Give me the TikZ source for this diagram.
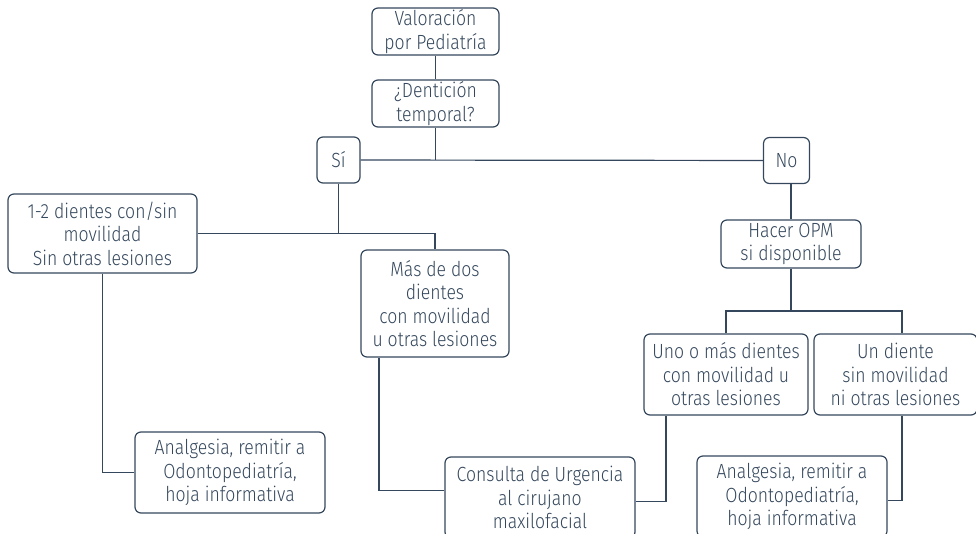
\documentclass[tikz,border=0pt]{standalone}
\usepackage{fontspec}
\setmainfont{Fira Sans Light}[FakeStretch=0.86]
\usepackage{tikz}
\usepackage{xcolor}
\definecolor{azul}{RGB}{52,71,92}

\begin{document}
\begin{tikzpicture}[x=1pt,y=-1pt,
        caja/.style={draw=azul,line width=1.2pt,rounded corners=6pt,align=center,text=azul,inner sep=0pt,
                font=\fontsize{20.5}{23.5}\selectfont},
        linea/.style={draw=azul,line width=1.2pt}]
        \useasboundingbox (0,0) rectangle (976,534);
        % cajas de arriba
        \node[caja,minimum width=127,minimum height=47] (val) at (435.5,31.5) {Valoración\\por Pediatría};
        \node[caja,minimum width=127,minimum height=47] (den) at (435.5,103.5) {¿Dentición\\temporal?};
        \node[caja,minimum width=43,minimum height=46] (si) at (338.5,160) {Sí};
        \node[caja,minimum width=46,minimum height=46] (no) at (786.5,160.5) {No};
        % rama del sí
        \node[caja,minimum width=189,minimum height=79] (unodos) at (102.5,233.5) {1-2 dientes con/sin\\movilidad\\Sin otras lesiones};
        \node[caja,minimum width=148,minimum height=107] (mas) at (435,303.5) {Más de dos\\dientes\\con movilidad\\u otras lesiones};
        \node[caja,minimum width=190,minimum height=81] (analg) at (230,472.5) {Analgesia, remitir a\\Odontopediatría,\\hoja informativa};
        \node[caja,minimum width=190,minimum height=81] (cons) at (540,497.5) {Consulta de Urgencia\\al cirujano\\maxilofacial};
        % rama del no
        \node[caja,minimum width=140,minimum height=48] (opm) at (791,244) {Hacer OPM\\si disponible};
        \node[caja,minimum width=164,minimum height=81] (unomas) at (726,374.5) {Uno o más dientes\\con movilidad u\\otras lesiones};
        \node[caja,minimum width=163,minimum height=81] (undte) at (895.5,374.5) {Un diente\\sin movilidad\\ni otras lesiones};
        \node[caja,minimum width=190,minimum height=81] (analgb) at (792,496.5) {Analgesia, remitir a\\Odontopediatría,\\hoja informativa};
        \coordinate (jr) at (902,311);
        % conexiones
        \draw[linea] (val) -- (den);
        \draw[linea] (si) -- (no);
        \draw[linea] (den.south) -- (den.south |- si.east);
        \draw[linea] (unodos.east) -| (mas.north);
        \draw[linea] (si.south) -- (si.south |- unodos.east);
        \draw[linea] (unodos.south) |- (analg.west);
        \draw[linea] ([xshift=-56pt]mas.south) |- ([yshift=7pt]cons.west);
        \draw[linea] (opm.north) -- (opm.north |- no.south);
        \draw[linea] (opm.south) -- (opm.south |- jr);
        \draw[linea] (unomas.north) |- (jr) -- (jr |- undte.north);
        \draw[linea] ([xshift=-60pt]unomas.south) |- ([yshift=-4pt]cons.east);
        \draw[linea] ([xshift=6.5pt]undte.south) |- ([yshift=-4pt]analgb.east);
\end{tikzpicture}
\end{document}
